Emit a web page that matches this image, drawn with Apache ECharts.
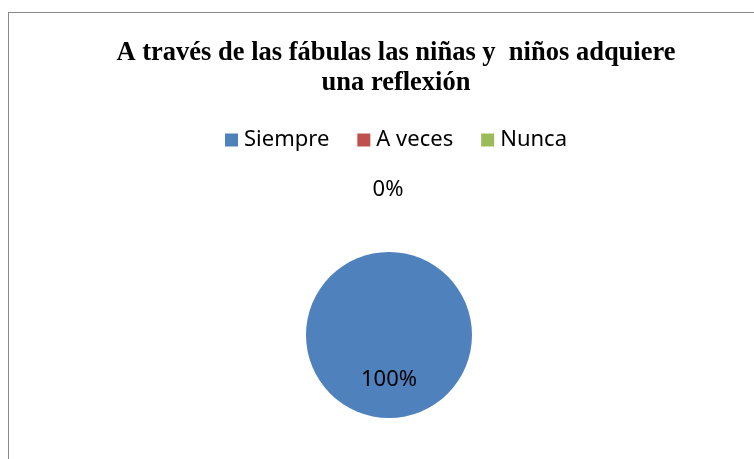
<!DOCTYPE html>
<html>
<head>
<meta charset="utf-8">
<script src="https://cdn.jsdelivr.net/npm/echarts@6/dist/echarts.min.js"></script>
<style>
    html, body { margin: 0; padding: 0; background: #fff; overflow: hidden; }
    #frame {
        position: absolute;
        left: 8px;
        top: 12px;
        width: 774px;
        height: 470px;
        border: 1px solid #8a8a8a;
        background: #fff;
    }
    #chart { width: 774px; height: 470px; }
</style>
</head>
<body>
<div id="frame"><div id="chart"></div></div>
<script>
// datos de la gráfica
const categorias = ['Siempre', 'A veces', 'Nunca'];
const valores = [100, 0, 0];
const colores = ['#4F81BD', '#C0504D', '#9BBB59'];
const titulo = 'A través de las fábulas las niñas y  niños adquiere\nuna reflexión';

const chart = echarts.init(document.getElementById('chart'));

const datos = categorias.map((nombre, i) => {
    const item = {
        name: nombre,
        value: valores[i],
        itemStyle: { color: colores[i] }
    };
    if (i === 0) {
        item.label = { position: 'inside' };
    } else if (i === 1) {
        // la etiqueta 0% queda arriba del pastel
        item.label = { position: 'outside' };
        item.labelLine = { show: false, length: 62, length2: 0 };
    } else {
        item.label = { show: false };
    }
    return item;
});

const option = {
    animation: false,
    title: {
        text: titulo,
        left: 'center',
        top: 20,
        textStyle: {
            fontFamily: 'Liberation Serif',
            fontWeight: 'bold',
            fontSize: 26.5,
            lineHeight: 30,
            color: '#000'
        }
    },
    legend: {
        data: categorias,
        top: 111,
        left: 'center',
        icon: 'rect',
        itemWidth: 13,
        itemHeight: 13,
        itemGap: 28,
        textStyle: {
            fontFamily: 'Noto Sans',
            fontSize: 22,
            color: '#000',
            padding: [0, 0, 0, 1]
        },
        selectedMode: false
    },
    series: [{
        type: 'pie',
        center: [380, 322],
        radius: 83,
        startAngle: 90,
        clockwise: true,
        avoidLabelOverlap: false,
        stillShowZeroSum: true,
        silent: true,
        label: {
            show: true,
            formatter: '{d}%',
            fontFamily: 'Noto Sans',
            fontSize: 22,
            color: '#000'
        },
        labelLayout: function (params) {
            return params.dataIndex === 1 ? { align: 'center', dx: -6 } : { align: 'center' };
        },
        data: datos
    }]
};

chart.setOption(option);
</script>
</body>
</html>
